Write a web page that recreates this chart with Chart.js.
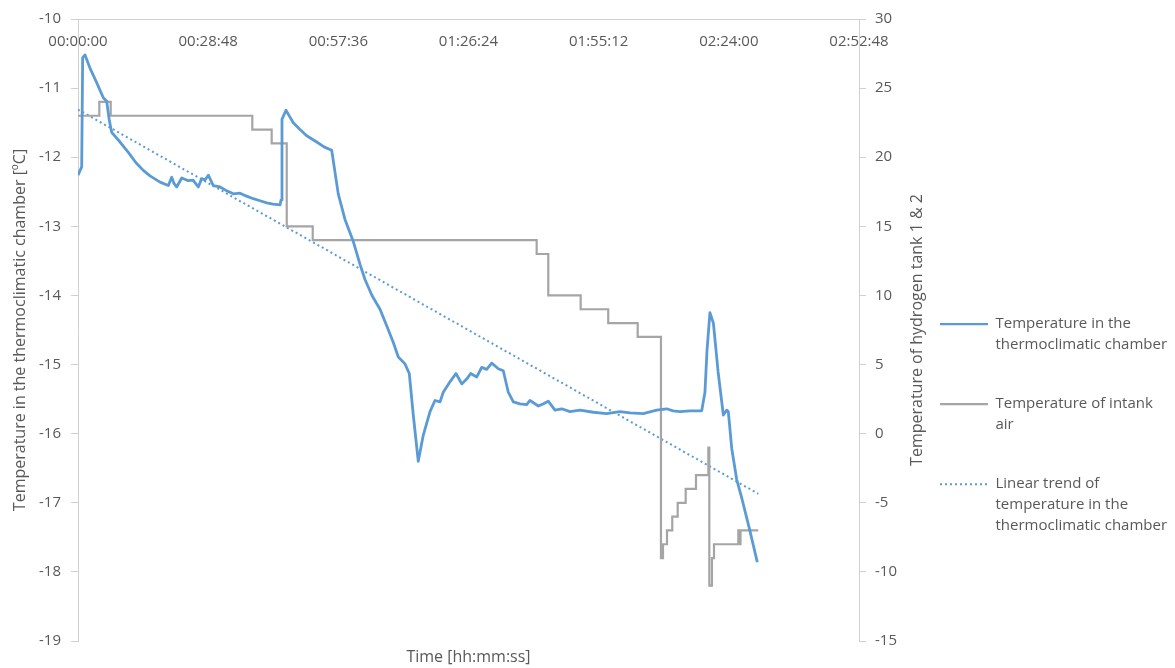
<!DOCTYPE html>
<html>
<head>
<meta charset="utf-8">
<script src="https://cdn.jsdelivr.net/npm/chart.js@4.4.1/dist/chart.umd.min.js"></script>
<style>
  body { margin: 0; background: #fff; }
  #wrap { width: 1175px; height: 668px; }
</style>
</head>
<body>
<div id="wrap"><canvas id="grafico"></canvas></div>
<script>
// Temperatura de la cámara (eje izquierdo), tiempo en segundos
const chamberTime = [0, 49, 62, 93, 159, 248, 336, 381, 416, 447, 558, 668, 770, 867, 956, 1089, 1199, 1244, 1274, 1310,
  1377, 1464, 1527, 1597, 1642, 1686, 1730, 1796, 1885, 1965, 2062, 2151, 2230, 2327, 2416, 2505, 2589, 2682, 2695, 2708,
  2761, 2814, 2858, 2947, 3036, 3169, 3266, 3368, 3455, 3544, 3655, 3744, 3810, 3903, 4009, 4102, 4186, 4252, 4341, 4398,
  4451, 4517, 4584, 4673, 4739, 4806, 4849, 4938, 5018, 5094, 5160, 5213, 5293, 5359, 5425, 5492, 5580, 5646, 5712, 5779,
  5868, 5956, 6000, 6111, 6173, 6243, 6332, 6421, 6531, 6664, 6841, 7018, 7195, 7328, 7504, 7682, 7815, 7899, 7992, 8124,
  8280, 8323, 8350, 8389, 8435, 8497, 8567, 8612, 8633, 8646, 8678, 8744, 8811, 8921, 9018];
const chamberTemp = [-12.26, -12.14, -10.56, -10.52, -10.71, -10.92, -11.14, -11.19, -11.47, -11.64, -11.78, -11.93, -12.08, -12.19, -12.27, -12.36, -12.41, -12.29, -12.38, -12.43,
  -12.30, -12.34, -12.33, -12.43, -12.31, -12.33, -12.26, -12.41, -12.43, -12.48, -12.53, -12.52, -12.56, -12.60, -12.63, -12.66, -12.68, -12.69, -12.62, -11.45,
  -11.32, -11.42, -11.50, -11.60, -11.69, -11.78, -11.85, -11.90, -12.53, -12.90, -13.22, -13.55, -13.77, -14.00, -14.20, -14.45, -14.68, -14.89, -14.99, -15.13,
  -15.73, -16.40, -16.02, -15.68, -15.52, -15.54, -15.40, -15.25, -15.13, -15.28, -15.21, -15.13, -15.18, -15.04, -15.07, -14.98, -15.06, -15.09, -15.40, -15.54,
  -15.57, -15.58, -15.52, -15.60, -15.57, -15.53, -15.66, -15.64, -15.68, -15.66, -15.69, -15.71, -15.68, -15.70, -15.71, -15.66, -15.64, -15.67, -15.68, -15.67,
  -15.67, -15.40, -14.80, -14.25, -14.40, -15.10, -15.73, -15.66, -15.68, -15.83, -16.21, -16.66, -16.93, -17.41, -17.86];

// Aire interior del tanque (eje derecho), escalones
const airTime = [0, 283, 434, 2314, 2571, 2771, 3116, 6089, 6243, 6673, 7039, 7430, 7739, 7766, 7819, 7889, 7961, 8067,
  8204, 8368, 8381, 8416, 8443, 8766, 8780, 8795, 9031];
const airTemp = [23, 24, 23, 22, 21, 15, 14, 13, 10, 9, 8, 7, -9, -8, -7, -6, -5, -4,
  -3, -1, -11, -9, -8, -7, -8, -7, -7];

// Tendencia lineal
const trendTime = [0, 9031];
const trendTemp = [-11.31, -16.87];

const xTicksStep = 1728;
const xMax = 10368;

const legendLines = [
  ['Temperature in the', 'thermoclimatic chamber', ''],
  ['Temperature of intank', 'air', ''],
  ['Linear trend of', 'temperature in the', 'thermoclimatic chamber']
];
const rightTitleText = 'Temperature of hydrogen tank 1 & 2';

const gris = '#595959';
const lineaEje = '#d0d0d0';

function hhmmss(s) {
  const h = Math.floor(s / 3600), m = Math.floor((s % 3600) / 60), sec = Math.round(s % 60);
  return [h, m, sec].map(v => String(v).padStart(2, '0')).join(':');
}

const pares = (xs, ys) => xs.map((x, i) => ({ x: x, y: ys[i] }));

Chart.defaults.font.family = '"Open Sans", sans-serif';
Chart.defaults.color = gris;

// título del eje derecho, leído de abajo hacia arriba como en el original
const tituloDerecho = {
  id: 'tituloDerecho',
  afterDraw(chart) {
    const s = chart.scales.y2, ctx = chart.ctx, a = chart.chartArea;
    ctx.save();
    ctx.translate(s.right - 6, (a.top + a.bottom) / 2);
    ctx.rotate(-Math.PI / 2);
    ctx.font = '16px "Open Sans"';
    ctx.fillStyle = gris;
    ctx.textAlign = 'center';
    ctx.textBaseline = 'middle';
    ctx.fillText(rightTitleText, 0, 0);
    ctx.restore();
  }
};

new Chart(document.getElementById('grafico'), {
  type: 'line',
  data: {
    datasets: [{
      label: 'Temperature in the thermoclimatic chamber',
      data: pares(chamberTime, chamberTemp),
      borderColor: '#5b9bd5',
      borderWidth: 2.8,
      pointRadius: 0,
      borderJoinStyle: 'round',
      yAxisID: 'y'
    }, {
      label: 'Temperature of intank air',
      data: pares(airTime, airTemp),
      borderColor: '#a5a5a5',
      borderWidth: 2.2,
      pointRadius: 0,
      stepped: 'before',
      yAxisID: 'y2'
    }, {
      label: 'Linear trend of temperature in the thermoclimatic chamber',
      data: pares(trendTime, trendTemp),
      borderColor: '#5b9bd5',
      borderWidth: 2,
      borderDash: [2, 3],
      pointRadius: 0,
      yAxisID: 'y'
    }]
  },
  options: {
    responsive: true,
    maintainAspectRatio: false,
    animation: false,
    layout: { padding: { top: 14 } },
    scales: {
      x: {
        type: 'linear',
        position: { y: -10 },
        min: 0,
        max: xMax,
        grid: { display: false, drawTicks: false },
        border: { color: lineaEje },
        ticks: {
          stepSize: xTicksStep,
          autoSkip: false,
          maxRotation: 0,
          padding: 14,
          font: { size: 15 },
          callback: v => hhmmss(v)
        }
      },
      xb: {
        type: 'linear',
        position: 'bottom',
        min: 0,
        max: xMax,
        grid: { display: false, drawTicks: false },
        border: { display: false },
        ticks: { display: false },
        title: { display: true, text: 'Time [hh:mm:ss]', font: { size: 16 }, padding: { top: 7, bottom: 1 } },
        afterFit: s => { s.height = 27; }
      },
      y: {
        position: 'left',
        min: -19,
        max: -10,
        grid: { drawOnChartArea: false, tickLength: 7, color: lineaEje },
        border: { color: lineaEje },
        ticks: { stepSize: 1, padding: 10, font: { size: 15 } },
        title: { display: true, text: 'Temperature in the thermoclimatic chamber [ºC]', font: { size: 16 }, padding: { top: 11, bottom: 0 } },
        afterFit: s => { s.width = 78; }
      },
      y2: {
        position: 'right',
        min: -15,
        max: 30,
        grid: { drawOnChartArea: false, tickLength: 7, color: lineaEje },
        border: { color: lineaEje },
        ticks: { stepSize: 5, padding: 9, font: { size: 15 } },
        afterFit: s => { s.width = 64; }
      }
    },
    plugins: {
      tooltip: { enabled: false },
      legend: {
        position: 'right',
        maxWidth: 252,
        title: { display: true, text: '', padding: { top: 160, bottom: 0 } },
        labels: {
          usePointStyle: true,
          pointStyle: 'line',
          pointStyleWidth: 48,
          padding: 17,
          color: gris,
          font: { size: 15, lineHeight: 1.4 },
          generateLabels: chart => Chart.defaults.plugins.legend.labels.generateLabels(chart)
            .map((item, i) => {
              const ds = chart.data.datasets[i];
              return Object.assign(item, {
                text: legendLines[i],
                strokeStyle: ds.borderColor,
                lineWidth: i === 2 ? 2 : 2.2,
                lineDash: ds.borderDash || []
              });
            })
        }
      }
    }
  },
  plugins: [tituloDerecho]
});
</script>
</body>
</html>
